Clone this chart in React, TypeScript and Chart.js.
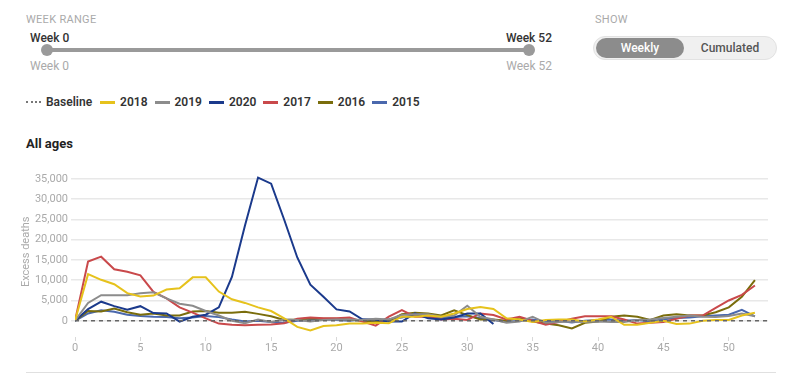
import React, { useEffect, useRef } from 'react';
import { Chart, registerables } from 'chart.js';

Chart.register(...registerables);

// ---- data ----
const weeks = Array.from({ length: 53 }, (_, i) => i);
const xTickValues = [0, 5, 10, 15, 20, 25, 30, 35, 40, 45, 50];
const yTickValues = [0, 5000, 10000, 15000, 20000, 25000, 30000, 35000];
const baselineWeeks = [0, 53];
const baselineValues = [0, 0];

const seriesNames = ['2018', '2019', '2020', '2017', '2016', '2015'];
const seriesColors = ['#e6c21c', '#8c8c8c', '#1b3a8c', '#c9494b', '#7a6d0c', '#4a68ad'];

const values2018 = [0, 11500, 10100, 9000, 6800, 6000, 6200, 7700, 8000, 10700, 10700, 7200, 5300, 4400, 3300, 2400, 600, -1500, -2400, -1300, -1100, -700, -700, -500, -600, 1000, 1000, 1300, 1000, 1800, 2900, 3400, 2900, 600, 300, -300, 200, 300, 300, -200, 300, 1000, -1000, -1000, -500, 0, -800, -700, 0, 200, 200, 1300, 2000];
const values2019 = [0, 4400, 6300, 6300, 6300, 6800, 7000, 5500, 4200, 3700, 2400, 1300, 0, -600, 300, -300, 300, 200, -200, 200, 300, 300, 200, 500, 300, 1400, 1600, 1600, 1000, 1300, 3700, 1000, 300, -500, -200, 1000, -500, -300, -200, -300, -200, -300, -300, 200, 300, 700, 1000, 1300, 1000, 900, 1200, 1800, 1100];
const values2020 = [0, 2900, 4700, 3600, 2700, 3600, 1900, 1800, -200, 1000, 1500, 3300, 10800, 23500, 35300, 33800, 24900, 15600, 8900, 5900, 2800, 2300, 300, 300, -200, -200, 1800, 600, 300, 800, 1800, 1800, -800];
const values2017 = [0, 14600, 15800, 12700, 12100, 11200, 7100, 5500, 3300, 2000, 600, -700, -1000, -1100, -1000, -900, -600, 500, 800, 600, 600, 800, -200, -1200, 1000, 2600, 1000, 1000, 300, 500, 200, 1800, 1400, 300, 1000, 0, -1000, -300, 500, 1100, 1100, 1100, 300, -700, -500, -300, 500, 1300, 1300, 3200, 5000, 6400, 8700];
const values2016 = [0, 2400, 2300, 3000, 2100, 1500, 1800, 1300, 1300, 2300, 2400, 2000, 2000, 2200, 1700, 1100, 200, 300, 600, 500, 500, 300, 0, -200, 0, 1600, 2000, 1800, 1300, 2600, 1400, 300, 300, 0, 800, -200, -700, -1100, -1900, -500, -200, 1000, 1300, 1000, 200, 1300, 1600, 1300, 1300, 2100, 3300, 5900, 10000];
const values2015 = [0, 1800, 2600, 2200, 1500, 1200, 1000, 900, 600, 800, 1200, 900, 300, -200, 0, -300, -500, 0, 200, 300, 200, 0, 300, 100, 400, 800, 1500, 1200, 600, 900, 1100, 700, 200, -300, 0, 300, -200, 0, -400, 0, 200, 300, 0, 200, -200, 400, 700, 800, 1100, 1300, 1500, 2700, 1100];

const seriesValues = [values2018, values2019, values2020, values2017, values2016, values2015];

const FONT = 'Roboto, "Noto Sans", sans-serif';

const rightBorder = {
  id: 'rightBorder',
  beforeDatasetsDraw(chart: any) {
    const { ctx, chartArea } = chart;
    ctx.save();
    ctx.strokeStyle = '#e4e4e4';
    ctx.lineWidth = 1;
    ctx.beginPath();
    ctx.moveTo(Math.round(chartArea.right) + 0.5, chartArea.top);
    ctx.lineTo(Math.round(chartArea.right) + 0.5, chartArea.bottom);
    ctx.stroke();
    ctx.restore();
  },
};

export default function App() {
  const ref = useRef<HTMLCanvasElement>(null);

  useEffect(() => {
    if (!ref.current) return;
    const toXY = (xs: number[], vals: number[]) => vals.map((v, i) => ({ x: xs[i], y: v }));
    const datasets: any[] = [
      {
        label: 'Baseline',
        data: toXY(baselineWeeks, baselineValues),
        borderColor: '#666',
        borderWidth: 1.5,
        borderDash: [4, 4],
        pointRadius: 0,
        order: 0,
      },
      ...seriesNames.map((name, i) => ({
        label: name,
        data: toXY(weeks, seriesValues[i]),
        borderColor: seriesColors[i],
        borderWidth: 2,
        pointRadius: 0,
        tension: 0,
        order: 1,
      })),
    ];
    const chart = new Chart(ref.current, {
      type: 'line',
      data: { datasets },
      options: {
        animation: false,
        responsive: false,
        maintainAspectRatio: false,
        layout: { padding: 0 },
        plugins: { legend: { display: false }, tooltip: { enabled: false }, title: { display: false } },
        scales: {
          x: {
            type: 'linear',
            min: 0,
            max: 53,
            afterBuildTicks: (s: any) => { s.ticks = xTickValues.map((v) => ({ value: v })); },
            ticks: { color: '#aaa', font: { size: 11, family: FONT }, padding: 1, maxRotation: 0, autoSkip: false },
            grid: { drawOnChartArea: false, tickLength: 4, color: '#d8d8d8' },
            border: { display: false },
            afterFit: (s: any) => { s.height = 22; },
          },
          y: {
            type: 'linear',
            min: -4000,
            max: 38000,
            afterBuildTicks: (s: any) => { s.ticks = yTickValues.map((v) => ({ value: v })); },
            ticks: {
              color: '#aaa',
              font: { size: 11, family: FONT },
              padding: 3,
              autoSkip: false,
              callback: (v: any) => Number(v).toLocaleString('en-US'),
            },
            grid: { color: '#e8e8e8', lineWidth: 1.5, tickLength: 4 },
            border: { display: false },
            title: { display: true, text: 'Excess deaths', color: '#aaa', font: { size: 11, family: FONT }, padding: 0 },
            afterFit: (s: any) => { s.width = 55; },
          },
        },
      } as any,
      plugins: [rightBorder],
    });
    return () => chart.destroy();
  }, []);

  const small: React.CSSProperties = { position: 'absolute', fontSize: 11, lineHeight: '12px', color: '#aaa', letterSpacing: 0.3 };
  const weekDark: React.CSSProperties = { position: 'absolute', fontSize: 12, lineHeight: '14px', color: '#333', fontWeight: 500 };
  const weekGray: React.CSSProperties = { position: 'absolute', fontSize: 12, lineHeight: '14px', color: '#aaa' };

  return (
    <div style={{ position: 'relative', width: 784, height: 371, fontFamily: FONT }}>
      {/* Week range slider */}
      <div style={{ ...small, left: 18, top: 6 }}>WEEK RANGE</div>
      <div style={{ ...weekDark, left: 22, top: 23 }}>Week 0</div>
      <div style={{ ...weekDark, left: 460, width: 84, textAlign: 'right', top: 23 }}>Week 52</div>
      <div style={{ position: 'absolute', left: 39, top: 40, width: 482, height: 4, background: '#9a9a9a', borderRadius: 2 }} />
      <div style={{ position: 'absolute', left: 33, top: 36, width: 12, height: 12, background: '#9a9a9a', borderRadius: 6 }} />
      <div style={{ position: 'absolute', left: 515, top: 36, width: 12, height: 12, background: '#9a9a9a', borderRadius: 6 }} />
      <div style={{ ...weekGray, left: 22, top: 51 }}>Week 0</div>
      <div style={{ ...weekGray, left: 460, width: 84, textAlign: 'right', top: 51 }}>Week 52</div>

      {/* Show toggle */}
      <div style={{ ...small, left: 587, top: 6 }}>SHOW</div>
      <div style={{ position: 'absolute', left: 585, top: 28, width: 182, height: 22, background: '#f0f0f0', border: '1px solid #e2e2e2', borderRadius: 12 }}>
        <div style={{ position: 'absolute', left: 2, top: 1, width: 88, height: 20, background: '#8c8c8c', borderRadius: 10, color: '#fff', fontSize: 12, lineHeight: '20px', textAlign: 'center', fontWeight: 500 }}>Weekly</div>
        <div style={{ position: 'absolute', left: 92, top: 1, width: 88, height: 20, color: '#555', fontSize: 12, lineHeight: '20px', textAlign: 'center', fontWeight: 500 }}>Cumulated</div>
      </div>

      {/* Legend */}
      <div style={{ position: 'absolute', left: 18, top: 87, display: 'flex', alignItems: 'center', fontSize: 12, fontWeight: 600, color: '#333', lineHeight: '14px' }}>
        <span style={{ display: 'inline-block', width: 15, borderTop: '2px dotted #777', marginRight: 5 }} />
        <span style={{ marginRight: 8 }}>Baseline</span>
        {seriesNames.map((n, i) => (
          <React.Fragment key={n}>
            <span style={{ display: 'inline-block', width: 15, height: 3, background: seriesColors[i], marginRight: 5 }} />
            <span style={{ marginRight: 7 }}>{n}</span>
          </React.Fragment>
        ))}
      </div>

      {/* Title */}
      <div style={{ position: 'absolute', left: 18, top: 128, fontSize: 13, fontWeight: 700, color: '#222', lineHeight: '16px' }}>All ages</div>

      {/* Chart */}
      <div style={{ position: 'absolute', left: 12, top: 149, width: 748, height: 202 }}>
        <canvas ref={ref} width={748} height={202} style={{ display: 'block', width: 748, height: 202 }} />
      </div>

      {/* Separator */}
      <div style={{ position: 'absolute', left: 18, top: 364, width: 750, height: 1, background: '#e0e0e0' }} />
    </div>
  );
}
